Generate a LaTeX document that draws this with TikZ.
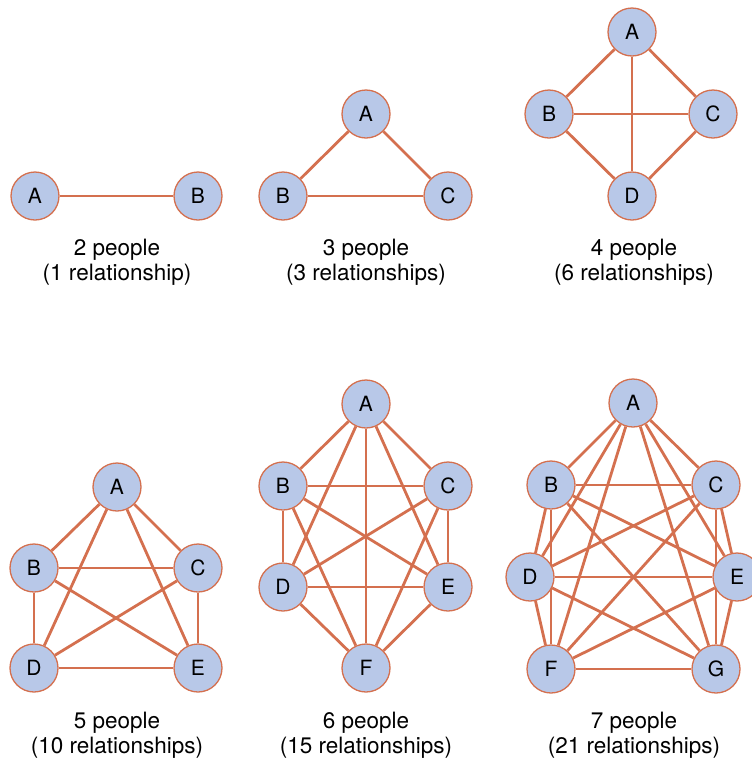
\documentclass[tikz,border=0pt]{standalone}
\usepackage{fontspec}
\setmainfont{TeX Gyre Heros}
\usepackage{tikz}
\usetikzlibrary{shapes,arrows,positioning,backgrounds}

\definecolor{person}{HTML}{B8C8E8}
\definecolor{tie}{HTML}{D4704F}

\tikzset{
	person/.style={shape=circle,draw=tie,fill=person,line width=1.3pt,minimum size=48pt,inner sep=0pt,font=\fontsize{21}{24}\selectfont},
	rel/.style={draw=tie,line width=2.8pt},
	caption/.style={align=center,font=\fontsize{22.5}{24.5}\selectfont}
}

\begin{document}
\begin{tikzpicture}[x=1pt,y=-1pt]
	\useasboundingbox (0,0) rectangle (752,764);

	% 2 people
	\node[person] (2A) at (35,196) {A};
	\node[person] (2B) at (198,196) {B};
	\node[caption] (2L) at (117,262) {2 people\\(1 relationship)};

	% 3 people
	\node[person] (3A) at (366,114) {A};
	\node[person] (3B) at (283,196) {B};
	\node[person] (3C) at (448,196) {C};
	\node[caption] (3L) at (366,262) {3 people\\(3 relationships)};

	% 4 people
	\node[person] (4A) at (632,32) {A};
	\node[person] (4B) at (549,114) {B};
	\node[person] (4C) at (713,114) {C};
	\node[person] (4D) at (632,196) {D};
	\node[caption] (4L) at (634,262) {4 people\\(6 relationships)};

	% 5 people
	\node[person] (5A) at (117,487) {A};
	\node[person] (5B) at (34,568) {B};
	\node[person] (5C) at (198,568) {C};
	\node[person] (5D) at (34,668) {D};
	\node[person] (5E) at (198,668) {E};
	\node[caption] (5L) at (117,735) {5 people\\(10 relationships)};

	% 6 people
	\node[person] (6A) at (366,404) {A};
	\node[person] (6B) at (283,486) {B};
	\node[person] (6C) at (448,486) {C};
	\node[person] (6D) at (283,587) {D};
	\node[person] (6E) at (448,587) {E};
	\node[person] (6F) at (366,668) {F};
	\node[caption] (6L) at (366,735) {6 people\\(15 relationships)};

	% 7 people
	\node[person] (7A) at (633,403) {A};
	\node[person] (7B) at (551,485) {B};
	\node[person] (7C) at (716,485) {C};
	\node[person] (7D) at (530,577) {D};
	\node[person] (7E) at (737,577) {E};
	\node[person] (7F) at (551,669) {F};
	\node[person] (7G) at (716,669) {G};
	\node[caption] (7L) at (634,735) {7 people\\(21 relationships)};

	\begin{scope}[on background layer]
	\path [rel] (2A) edge (2B);

	\path [rel] (3A) edge (3B);
	\path [rel] (3A) edge (3C);
	\path [rel] (3B) edge (3C);

	\path [rel] (4A) edge (4B);
	\path [rel] (4A) edge (4C);
	\path [rel] (4A) edge (4D);
	\path [rel] (4B) edge (4C);
	\path [rel] (4B) edge (4D);
	\path [rel] (4C) edge (4D);

	\path [rel] (5A) edge (5B);
	\path [rel] (5A) edge (5C);
	\path [rel] (5A) edge (5D);
	\path [rel] (5A) edge (5E);
	\path [rel] (5B) edge (5C);
	\path [rel] (5B) edge (5D);
	\path [rel] (5B) edge (5E);
	\path [rel] (5C) edge (5D);
	\path [rel] (5C) edge (5E);
	\path [rel] (5D) edge (5E);

	\path [rel] (6A) edge (6B);
	\path [rel] (6A) edge (6C);
	\path [rel] (6A) edge (6D);
	\path [rel] (6A) edge (6E);
	\path [rel] (6A) edge (6F);
	\path [rel] (6B) edge (6C);
	\path [rel] (6B) edge (6D);
	\path [rel] (6B) edge (6E);
	\path [rel] (6B) edge (6F);
	\path [rel] (6C) edge (6D);
	\path [rel] (6C) edge (6E);
	\path [rel] (6C) edge (6F);
	\path [rel] (6D) edge (6E);
	\path [rel] (6D) edge (6F);
	\path [rel] (6E) edge (6F);

	\path [rel] (7A) edge (7B);
	\path [rel] (7A) edge (7C);
	\path [rel] (7A) edge (7D);
	\path [rel] (7A) edge (7E);
	\path [rel] (7A) edge (7F);
	\path [rel] (7A) edge (7G);
	\path [rel] (7B) edge (7C);
	\path [rel] (7B) edge (7D);
	\path [rel] (7B) edge (7E);
	\path [rel] (7B) edge (7F);
	\path [rel] (7B) edge (7G);
	\path [rel] (7C) edge (7D);
	\path [rel] (7C) edge (7E);
	\path [rel] (7C) edge (7F);
	\path [rel] (7C) edge (7G);
	\path [rel] (7D) edge (7E);
	\path [rel] (7D) edge (7F);
	\path [rel] (7D) edge (7G);
	\path [rel] (7E) edge (7F);
	\path [rel] (7E) edge (7G);
	\path [rel] (7F) edge (7G);
	\end{scope}
\end{tikzpicture}
\end{document}
